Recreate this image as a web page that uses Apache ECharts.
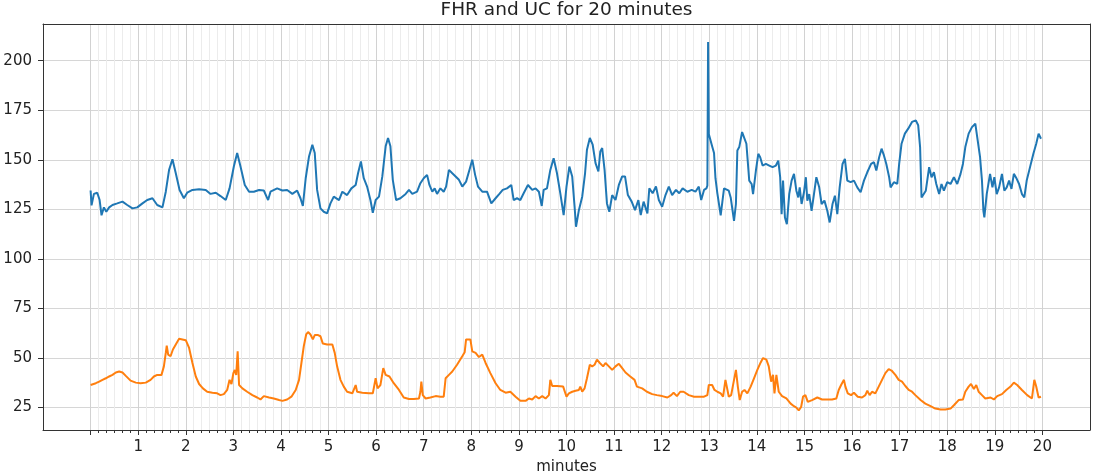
<!DOCTYPE html>
<html>
<head>
<meta charset="utf-8">
<script src="https://cdn.jsdelivr.net/npm/echarts@6/dist/echarts.min.js"></script>
<style>
html,body{margin:0;padding:0;background:#fff;}
#chart{width:1097px;height:476px;}
</style>
</head>
<body>
<div id="chart"></div>
<script>
const chartTitle = 'FHR and UC for 20 minutes';
const xAxisName = 'minutes';
const yTickValues = [25, 50, 75, 100, 125, 150, 175, 200];
const xTickValues = [0,1,2,3,4,5,6,7,8,9,10,11,12,13,14,15,16,17,18,19,20];
const xTickLabels = ['', '1','2','3','4','5','6','7','8','9','10','11','12','13','14','15','16','17','18','19','20'];
const yRange = [13.7, 218.5];
const xRange = [-1, 21];

// FHR: [minute, bpm]
const fhrPoints = [
[0,134.5],[0.02,127],[0.07,132.8],[0.14,133.4],[0.19,129.7],[0.23,122],[0.28,126],[0.33,123.8],[0.39,126],[0.46,127.2],
[0.56,128],[0.67,128.9],[0.77,127.2],[0.88,125.5],[0.98,126],[1.09,128],[1.19,129.7],[1.30,130.6],[1.40,127.2],[1.51,126],
[1.58,133.9],[1.65,145],[1.72,150.3],[1.79,143.2],[1.87,134.8],[1.96,130.6],[2.03,133.4],[2.14,134.8],[2.28,135.1],[2.42,134.8],
[2.52,132.8],[2.63,133.4],[2.73,131.7],[2.84,129.7],[2.92,135.6],[3.01,146.6],[3.08,153.4],[3.15,146.6],[3.24,137.3],[3.33,133.9],
[3.43,133.9],[3.54,134.8],[3.64,134.5],[3.73,129.7],[3.78,133.9],[3.92,135.6],[4.03,134.5],[4.13,134.8],[4.24,132.8],[4.34,134.5],
[4.41,130.6],[4.46,126.7],[4.52,140.7],[4.59,151.7],[4.66,157.6],[4.71,153.4],[4.76,134.8],[4.83,125.5],[4.90,123.8],[4.97,123],
[5.04,128],[5.11,131.4],[5.22,129.7],[5.29,133.9],[5.39,132.2],[5.48,135.6],[5.57,137.3],[5.62,143.2],[5.68,149.2],[5.74,140.7],
[5.81,136.5],[5.88,129.7],[5.93,123.3],[5.99,129.7],[6.06,131.4],[6.13,141.6],[6.20,156.8],[6.25,161],[6.30,156.8],[6.35,139.9],
[6.42,129.7],[6.51,130.6],[6.62,132.8],[6.69,134.8],[6.76,132.8],[6.86,133.9],[6.93,138.2],[7.00,140.7],[7.07,142.4],[7.12,137.3],
[7.18,133.9],[7.23,135.6],[7.28,132.8],[7.35,135.6],[7.42,133.9],[7.47,136.5],[7.53,144.9],[7.60,143.2],[7.67,141.6],[7.74,139.9],
[7.81,136.5],[7.89,139],[7.96,144.9],[8.02,150],[8.08,142.4],[8.14,136.5],[8.23,133.9],[8.33,133.9],[8.42,128],[8.51,130.6],
[8.59,132.8],[8.66,134.8],[8.75,135.6],[8.84,137.3],[8.89,129.7],[8.96,130.6],[9.03,129.7],[9.10,133.1],[9.19,137.3],[9.28,134.8],
[9.35,135.6],[9.42,133.9],[9.48,126.7],[9.52,134.8],[9.59,135.6],[9.66,144.9],[9.73,150.8],[9.80,143.2],[9.87,133.1],[9.94,122.1],
[10.00,136.5],[10.06,146.6],[10.12,141.6],[10.17,126.3],[10.20,116.2],[10.26,124.6],[10.33,131.4],[10.39,143.2],[10.43,155.1],[10.49,161],
[10.55,157.6],[10.61,148.3],[10.67,144.1],[10.71,154.2],[10.75,155.9],[10.80,144.9],[10.85,128],[10.90,123.8],[10.96,132.2],[11.03,129.7],
[11.10,137.3],[11.17,141.6],[11.23,141.6],[11.29,132.2],[11.37,128.9],[11.44,124.6],[11.51,129.7],[11.56,122.1],[11.62,128.9],[11.70,123],
[11.74,135.6],[11.81,133.1],[11.88,136.5],[11.94,129.7],[12.01,126.3],[12.08,132.2],[12.15,136.5],[12.22,132.2],[12.30,134.8],[12.37,133.1],
[12.44,135.6],[12.54,133.9],[12.63,134.8],[12.71,133.9],[12.78,136.5],[12.83,129.7],[12.89,134.8],[12.94,135.6],[12.96,137],[12.975,209.4],
[12.99,163],[13.03,162.7],[13.06,156.8],[13.10,153.4],[13.13,140.7],[13.17,133.1],[13.24,122],[13.31,135.6],[13.35,136],[13.41,134.4],
[13.45,131],[13.49,124.3],[13.52,119.2],[13.56,127.7],[13.59,154.7],[13.63,156.4],[13.69,164],[13.73,163.2],[13.78,158.1],[13.84,139.5],
[13.89,137.8],[13.92,132.7],[13.98,144.6],[14.03,153],[14.07,151.3],[14.12,147.1],[14.19,147.9],[14.26,147.1],[14.33,146.3],[14.40,147.1],
[14.45,149.6],[14.49,141.2],[14.52,122.6],[14.55,139.5],[14.59,120.9],[14.63,117.5],[14.68,132.7],[14.73,139.5],[14.78,142.9],[14.83,134.4],
[14.87,131],[14.90,136.1],[14.94,127.7],[14.99,133.6],[15.03,141.2],[15.06,129.4],[15.10,132.7],[15.15,124.3],[15.20,132.7],[15.25,141.2],
[15.31,136.1],[15.36,127.7],[15.42,129.4],[15.48,124.3],[15.53,118.4],[15.59,127.7],[15.64,131.9],[15.69,122.6],[15.74,136.1],[15.80,147.9],
[15.85,150.5],[15.90,139.5],[15.97,138.7],[16.04,139.5],[16.11,136.1],[16.18,133.6],[16.25,139.5],[16.32,143.7],[16.40,147.9],[16.46,148.8],
[16.51,144.6],[16.57,151.3],[16.62,155.6],[16.67,152.2],[16.72,147.9],[16.78,141.2],[16.81,136.1],[16.88,138.7],[16.95,137.8],[16.99,147.9],
[17.04,158.1],[17.11,163.2],[17.18,165.7],[17.26,169.1],[17.34,169.9],[17.39,167.4],[17.43,156.4],[17.46,131],[17.49,130.2],[17.55,134.4],
[17.62,146.3],[17.67,141.2],[17.72,143.7],[17.77,137.8],[17.83,132.7],[17.88,137.8],[17.93,134.4],[18.00,138.7],[18.07,137.8],[18.14,141.2],
[18.21,137.8],[18.28,142.9],[18.33,147.9],[18.38,156.4],[18.45,163.2],[18.52,166.5],[18.59,168.2],[18.64,159.8],[18.69,151.3],[18.73,139.5],
[18.76,124.3],[18.78,120.9],[18.83,132.7],[18.90,142.9],[18.95,136.1],[18.99,141.2],[19.04,132.7],[19.09,136.1],[19.15,142.9],[19.20,134.4],
[19.25,136.1],[19.30,139.5],[19.35,135.3],[19.40,142.9],[19.46,140.4],[19.51,137.8],[19.57,132.7],[19.62,131],[19.67,139.5],[19.74,146.3],
[19.81,153],[19.87,158.1],[19.92,163.2],[19.97,160.6]
];

// UC: [minute, value]
const ucPoints = [
[0,36.4],[0.04,35.9],[0.11,37.3],[0.18,38.1],[0.25,39],[0.32,39.8],[0.39,40.7],[0.46,41.5],[0.53,42.7],[0.60,43.2],
[0.67,42.7],[0.74,41],[0.84,38.6],[0.95,37.6],[1.05,37.3],[1.16,37.6],[1.26,39],[1.33,40.7],[1.40,41.5],[1.49,41.5],
[1.54,45.8],[1.58,52.6],[1.60,56.3],[1.63,51.7],[1.68,50.9],[1.73,54.3],[1.79,56.8],[1.86,59.7],[1.93,59.4],[2.00,59],
[2.07,55.1],[2.14,47.5],[2.21,40.7],[2.28,36.9],[2.36,34.7],[2.45,33],[2.56,32.5],[2.66,32.2],[2.73,31.3],[2.80,31.8],
[2.87,33.9],[2.92,39],[2.96,36.9],[3.00,42.4],[3.03,44],[3.06,41.5],[3.09,53.4],[3.12,36.4],[3.19,34.7],[3.29,33],
[3.40,31.3],[3.50,30.1],[3.57,29.1],[3.64,30.8],[3.75,30.1],[3.85,29.6],[3.96,28.8],[4.03,28.4],[4.13,29.1],[4.22,30.5],
[4.31,33.9],[4.38,39],[4.43,47.5],[4.48,56],[4.53,61.9],[4.57,63.1],[4.62,61.9],[4.67,59.4],[4.71,61.6],[4.78,61.6],
[4.83,61],[4.88,57.3],[4.97,56.8],[5.08,56.8],[5.13,52.6],[5.18,45.8],[5.25,39],[5.32,35.6],[5.39,33],[5.50,32.2],
[5.57,36.4],[5.60,33],[5.71,32.5],[5.85,32.2],[5.93,32.2],[5.99,39.8],[6.03,34.7],[6.09,36.4],[6.15,44.9],[6.20,41.5],
[6.28,40.7],[6.37,37.3],[6.48,33.9],[6.58,30.1],[6.69,29.3],[6.79,29.3],[6.90,29.6],[6.93,33],[6.95,38.1],[6.98,31.3],
[7.04,29.6],[7.14,30.1],[7.25,30.8],[7.35,30.5],[7.42,30.5],[7.46,39.8],[7.53,41.5],[7.60,43.2],[7.70,46.6],[7.81,50.9],
[7.86,52.9],[7.89,59.4],[7.98,59.4],[8.02,53.4],[8.09,52.6],[8.16,50.5],[8.23,51.7],[8.30,47.5],[8.40,42.4],[8.51,37.3],
[8.61,33.9],[8.72,32.5],[8.82,33],[8.93,30.5],[9.03,28.4],[9.14,28.4],[9.21,29.6],[9.28,29.1],[9.35,30.8],[9.42,29.6],
[9.49,30.8],[9.56,29.6],[9.63,31.3],[9.66,39],[9.70,35.9],[9.80,35.9],[9.93,35.6],[10.00,30.5],[10.05,32.2],[10.12,33],
[10.19,33.5],[10.26,33.9],[10.29,35.6],[10.33,33],[10.38,34.7],[10.43,39.8],[10.49,46.6],[10.54,45.8],[10.59,46.6],[10.64,49.2],
[10.70,47.5],[10.77,45.8],[10.82,47.5],[10.89,45.8],[10.96,44],[11.03,45.8],[11.10,47.1],[11.17,44.9],[11.24,42.7],[11.34,40.7],
[11.43,39],[11.48,35.6],[11.59,34.7],[11.69,33],[11.80,31.8],[11.90,31.3],[12.01,30.8],[12.12,30.1],[12.20,31.3],[12.25,32.5],
[12.32,30.8],[12.39,33],[12.46,33],[12.57,31.3],[12.68,30.5],[12.78,30.5],[12.89,30.5],[12.96,31.3],[12.99,36.4],[13.06,36.4],
[13.11,33.9],[13.17,33],[13.24,32.2],[13.29,30.5],[13.34,39],[13.38,39.8],[13.41,30.5],[13.46,31.3],[13.52,39],[13.56,44],
[13.60,35.6],[13.64,28.8],[13.69,33],[13.74,33.9],[13.80,32.2],[13.87,35.6],[13.94,39.8],[14.01,44],[14.08,47.8],[14.13,50],
[14.20,49.2],[14.25,45.8],[14.30,38.1],[14.34,41.5],[14.37,32.2],[14.41,41.5],[14.46,33],[14.53,30.8],[14.62,29.6],[14.71,27],
[14.78,25.7],[14.83,25],[14.88,23.6],[14.93,25.3],[14.97,30.5],[15.02,31.3],[15.07,27.9],[15.16,28.8],[15.27,30.1],[15.37,29.1],
[15.48,29.1],[15.58,29.1],[15.67,29.6],[15.72,33.9],[15.77,36.4],[15.83,39],[15.86,35.6],[15.91,32.2],[15.98,31.3],[16.04,32.5],
[16.12,30.5],[16.21,30.1],[16.28,31.3],[16.32,33.5],[16.37,31.3],[16.42,33],[16.49,32.2],[16.56,35.6],[16.63,39],[16.70,42.4],
[16.77,44.4],[16.83,43.7],[16.91,41.5],[16.98,39],[17.05,38.1],[17.12,35.9],[17.19,33.9],[17.26,33],[17.33,31.3],[17.44,28.8],
[17.54,27],[17.65,25.7],[17.75,24.5],[17.86,24],[17.96,24],[18.07,24.5],[18.14,26.2],[18.24,28.8],[18.33,29.1],[18.38,33],
[18.45,35.6],[18.50,36.9],[18.56,34.4],[18.61,36.4],[18.66,33],[18.73,31.3],[18.80,29.6],[18.91,30.1],[18.98,29.1],[19.05,30.8],
[19.15,31.8],[19.24,33.9],[19.33,35.6],[19.40,37.6],[19.47,36.4],[19.57,33.9],[19.68,31.3],[19.78,29.6],[19.83,39],[19.87,35.6],
[19.92,30.1],[19.97,30.5]
];

const FONT = 'DejaVu Sans';
const chart = echarts.init(document.getElementById('chart'), null, {renderer: 'canvas'});
const gridLeft = 43, gridRight = 7, gridTop = 24, gridBottom = 46;
const plotW = 1097 - gridLeft - gridRight;
const perUnit = plotW / (xRange[1] - xRange[0]);
const spine = {show: true, onZero: false, lineStyle: {color: '#333', width: 1}};

chart.setOption({
  animation: false,
  backgroundColor: '#ffffff',
  title: {
    text: chartTitle,
    left: gridLeft + plotW / 2,
    textAlign: 'center',
    top: 1,
    padding: 0,
    textStyle: {fontFamily: FONT, fontSize: 18.5, fontWeight: 'normal', color: '#222'}
  },
  grid: [
    {left: gridLeft, right: gridRight, top: gridTop, bottom: gridBottom, show: false,
     containLabel: false, outerBoundsMode: 'none'},
    {left: gridLeft + perUnit * (0 - xRange[0]), right: gridRight + perUnit * (xRange[1] - 20),
     top: gridTop, bottom: gridBottom, show: false, containLabel: false, outerBoundsMode: 'none'}
  ],
  xAxis: [
    {gridIndex: 0, type: 'value', min: xRange[0], max: xRange[1], position: 'bottom',
     axisLine: spine, axisTick: {show: false}, axisLabel: {show: false}, splitLine: {show: false}},
    {gridIndex: 1, type: 'value', min: 0, max: 20, interval: 1, position: 'bottom',
     name: xAxisName, nameLocation: 'middle', nameGap: 30,
     nameTextStyle: {fontFamily: FONT, fontSize: 15, color: '#222'},
     axisLine: {show: false},
     axisTick: {show: true, inside: false, length: 5, lineStyle: {color: '#333', width: 1}},
     minorTick: {show: true, splitNumber: 6, length: 3, lineStyle: {color: '#333', width: 1}},
     splitLine: {show: true, lineStyle: {color: '#d2d2d2', width: 1}},
     minorSplitLine: {show: true, lineStyle: {color: '#ececec', width: 1}},
     axisLabel: {margin: 10, fontFamily: FONT, fontSize: 15, color: '#222',
       formatter: function (v) { const i = xTickValues.indexOf(v); return i >= 0 ? xTickLabels[i] : ''; }}
    },
    {gridIndex: 0, type: 'value', min: xRange[0], max: xRange[1], position: 'top',
     axisLine: spine, axisTick: {show: false}, axisLabel: {show: false}, splitLine: {show: false}}
  ],
  yAxis: [
    {gridIndex: 0, type: 'value', min: yRange[0], max: yRange[1], position: 'left',
     axisLine: spine,
     axisTick: {show: true, inside: false, length: 5, customValues: yTickValues, lineStyle: {color: '#333', width: 1}},
     axisLabel: {customValues: yTickValues, margin: 11, fontFamily: FONT, fontSize: 15, color: '#222'},
     splitLine: {show: true, lineStyle: {color: '#d6d6d6', width: 1}}
    },
    {gridIndex: 1, type: 'value', min: yRange[0], max: yRange[1], show: false},
    {gridIndex: 0, type: 'value', min: yRange[0], max: yRange[1], position: 'right',
     axisLine: spine, axisTick: {show: false}, axisLabel: {show: false}, splitLine: {show: false}}
  ],
  series: [
    {name: 'FHR', type: 'line', xAxisIndex: 0, yAxisIndex: 0, data: fhrPoints,
     showSymbol: false, symbol: 'none', lineStyle: {color: '#1f77b4', width: 2}, itemStyle: {color: '#1f77b4'}, z: 3},
    {name: 'UC', type: 'line', xAxisIndex: 0, yAxisIndex: 0, data: ucPoints,
     showSymbol: false, symbol: 'none', lineStyle: {color: '#ff7f0e', width: 2}, itemStyle: {color: '#ff7f0e'}, z: 4}
  ]
});
</script>
</body>
</html>
